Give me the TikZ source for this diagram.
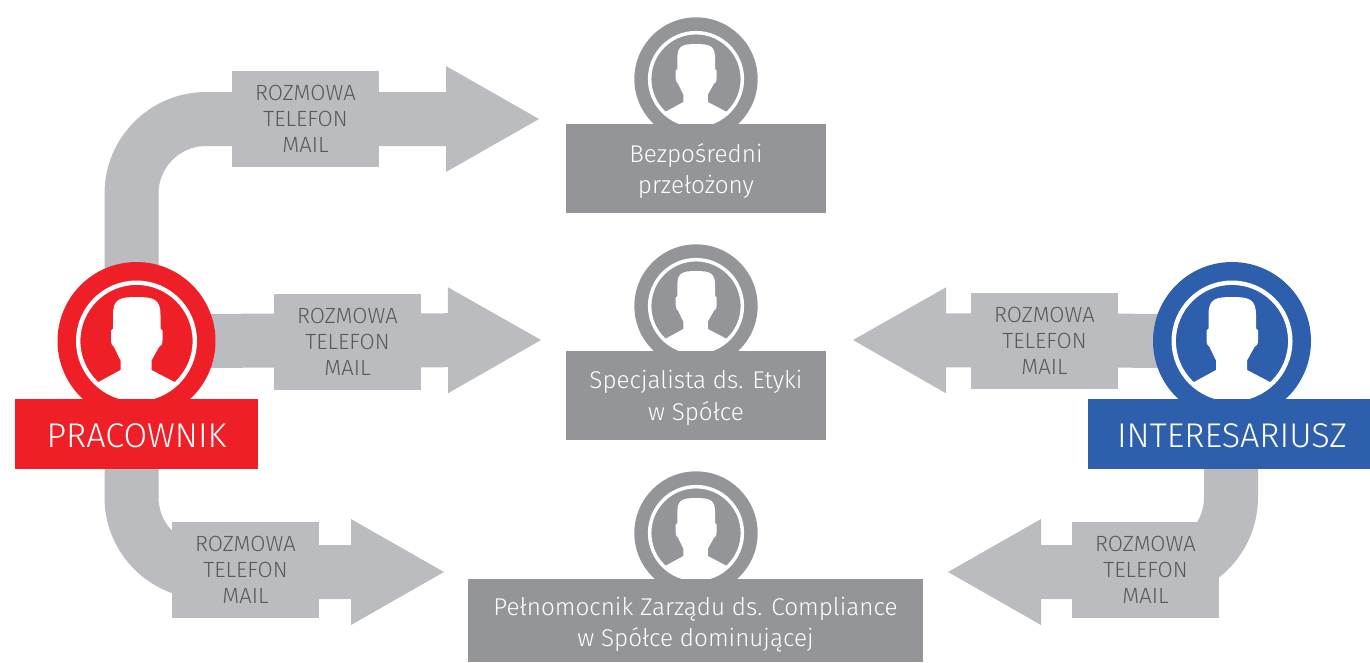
\documentclass[tikz,border=0pt]{standalone}
\usepackage{fontspec}
\setmainfont{Fira Sans Light}
\usetikzlibrary{arrows.meta,backgrounds}
\definecolor{bandc}{HTML}{BBBCBF}
\definecolor{darkt}{HTML}{58595B}
\definecolor{redc}{HTML}{EE1F26}
\definecolor{bluec}{HTML}{2E5FAC}
\definecolor{grayc}{HTML}{939598}
\tikzset{
  band/.style={draw=bandc,line width=40.5pt,rounded corners=56pt,line cap=butt,
    -{Triangle[length=69.75pt,width=79.5pt,line width=0pt]}},
  chan/.style={fill=bandc,text=darkt,inner sep=0pt,minimum width=110.25pt,minimum height=72pt,
    align=center,font=\fontsize{16.5}{19.5}\selectfont},
  bigdisc/.style={circle,inner sep=0pt,minimum size=118.5pt},
  smalldisc/.style={circle,fill=grayc,inner sep=0pt,minimum size=92.5pt},
  rolebox/.style={fill=grayc,inner sep=0pt},
  roletext/.style={text=white,inner sep=0pt,align=center,
    font=\fontsize{18.2}{23.5}\selectfont},
  actorbox/.style={inner sep=0pt,minimum height=52.5pt},
  actortext/.style={text=white,inner sep=0pt,font=\fontsize{25.7}{28}\selectfont}
}
\newcommand{\personicon}[3]{%
  \begin{scope}[shift={(#1,#2)},scale=#3]
    \draw[white,line width=#3*3.3pt] (0,0) circle[radius=58.3];
    \begin{scope}
      \clip (0,0) circle[radius=57];
      \fill[white] (0,-44) .. controls (-17,-44) and (-23.5,-42) .. (-23.5,-26)
        -- (-23.5,-12.5) -- (-25.5,-10.5) -- (-25.5,-1) .. controls (-25.5,3) and (-24,5) .. (-22.5,6)
        -- (-16,19.5) -- (-16,29) -- (-38,41) -- (-38,70) -- (38,70) -- (38,41)
        -- (15,29) -- (15,19.5) -- (22.5,6) .. controls (25,5) and (26,3) .. (26,-1)
        -- (26,-10.5) -- (24,-12.5) -- (24,-26) .. controls (24,-42) and (17,-44) .. (0,-44) -- cycle;
    \end{scope}
  \end{scope}}
\begin{document}
\begin{tikzpicture}[x=0.75pt,y=-0.75pt]
\useasboundingbox (0,0) rectangle (1370,662);
% channel labels
\node[chan] (lab1) at (305.5,119) {ROZMOWA\\TELEFON\\MAIL};
\node[chan] (lab2) at (347.5,342) {ROZMOWA\\TELEFON\\MAIL};
\node[chan] (lab3) at (245.5,570) {ROZMOWA\\TELEFON\\MAIL};
\node[chan] (lab4) at (1044.5,340.7) {ROZMOWA\\TELEFON\\MAIL};
\node[chan] (lab5) at (1145.5,570) {ROZMOWA\\TELEFON\\MAIL};
% discs
\node[bigdisc,fill=redc] (pracDisc) at (136.5,341) {};
\node[bigdisc,fill=bluec] (intDisc) at (1232,341) {};
\node[smalldisc] (d1) at (696,79) {};
\node[smalldisc] (d2) at (696,306) {};
\node[smalldisc] (d3) at (696,533) {};
\personicon{136.5}{341}{1}
\personicon{1232}{341}{1}
\personicon{696}{79}{0.795}
\personicon{696}{306}{0.795}
\personicon{696}{533}{0.795}
% boxes
\node[actorbox,fill=redc,minimum width=182.25pt] (prac) at (136.5,434) {};
\node[actorbox,fill=bluec,minimum width=211.5pt] (int) at (1229,434) {};
\node[rolebox,minimum width=195pt,minimum height=66.75pt] (r1) at (696,168.5) {};
\node[rolebox,minimum width=195pt,minimum height=66.75pt] (r2) at (696,395.5) {};
\node[rolebox,minimum width=341.25pt,minimum height=62.25pt] (r3) at (695.5,620.5) {};
% box texts
\node[actortext] (pract) at ([yshift=-1pt]prac.center) {PRACOWNIK};
\node[actortext] (intt) at ([xshift=2.25pt,yshift=-1pt]int.center) {INTERESARIUSZ};
\node[roletext] (r1t) at ([yshift=-2pt]r1.center) {Bezpośredni\\przełożony};
\node[roletext] (r2t) at ([yshift=-1.8pt]r2.center) {Specjalista ds. Etyki\\w Spółce};
\node[roletext] (r3t) at ([yshift=-3.2pt]r3.center) {Pełnomocnik Zarządu ds. Compliance\\w Spółce dominującej};
% connectors
\coordinate (s1) at (131.5,300);
\coordinate (s3) at (131.5,440);
\coordinate (s5) at (1231,440);
\coordinate (t1) at (539,119);
\coordinate (t2) at (541,340);
\coordinate (t3) at (444,572);
\coordinate (t4) at (853,340);
\coordinate (t5) at (948,572);
\begin{pgfonlayer}{background}
\draw[band] (s1) |- (t1);
\draw[band] (pracDisc.center) -- (t2);
\draw[band] (s3) |- (t3);
\draw[band] (intDisc.center) -- (t4);
\draw[band] (s5) |- (t5);
\end{pgfonlayer}
\end{tikzpicture}
\end{document}
